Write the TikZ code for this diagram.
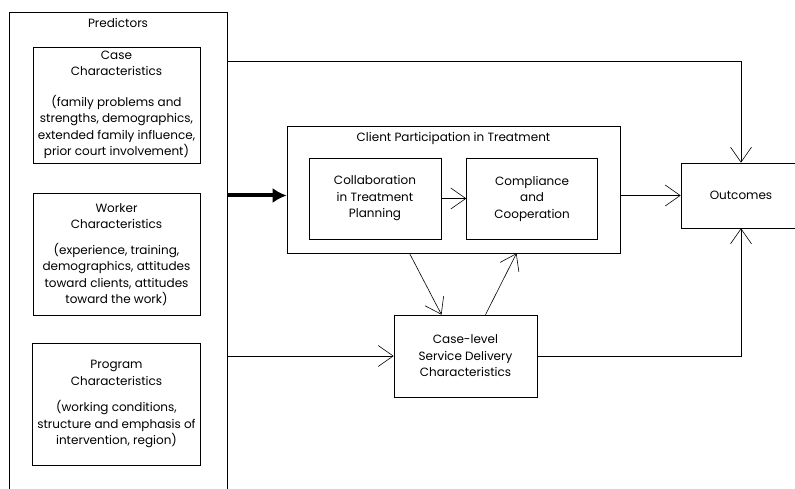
\documentclass[tikz,border=0pt]{standalone}
\usepackage{fontspec}
\setmainfont{Poppins}
\usetikzlibrary{arrows.meta,positioning}

\begin{document}
\begin{tikzpicture}[x=1pt, y=-1pt, node distance=30pt and 25pt,
  every node/.style={font=\fontsize{12}{16.5}\selectfont, align=center},
  box/.style={draw, line width=0.6pt, inner sep=0pt},
  conn/.style={line width=0.6pt, -{Straight Barb[length=15pt,width=21pt]}},
  bigconn/.style={line width=4pt, -{Latex[length=14pt,width=15pt]}}]
\useasboundingbox (0,0) rectangle (795,489);

% predictors column (open at the bottom of the page)
\node[box, minimum width=218pt, minimum height=508pt] (pred) at (118,266) {};
\node (predtitle) at (118,23) {Predictors};
\node[box, minimum width=167pt, minimum height=116pt] (case) at (116.5,105)
  {Case\\Characteristics\\[14pt](family problems and\\strengths, demographics,\\extended family influence,\\prior court involvement)};
\node[box, minimum width=167pt, minimum height=122pt, below=30pt of case] (worker)
  {Worker\\Characteristics\\[9pt](experience, training,\\demographics, attitudes\\toward clients, attitudes\\toward the work)};
\node[box, minimum width=168pt, minimum height=122pt, below=27pt of worker] (program)
  {Program\\Characteristics\\[10pt](working conditions,\\structure and emphasis of\\intervention, region)};

% client participation
\node[box, minimum width=333pt, minimum height=127pt] (client) at (453.5,189.5) {};
\node[below=3pt of client.north] (clienttitle) {Client Participation in Treatment};
\node[box, minimum width=132pt, minimum height=81pt] (collab) at (375,198.5)
  {Collaboration\\in Treatment\\Planning};
\node[box, minimum width=131pt, minimum height=81pt, right=25pt of collab] (comply)
  {Compliance\\and\\Cooperation};

\node[box, minimum width=143pt, minimum height=82pt] (svc) at (465.5,356)
  {Case-level\\Service Delivery\\Characteristics};
\node[box, minimum width=120pt, minimum height=65pt] (outc) at (741,195.5) {Outcomes};

% connectors
\draw[conn] ([yshift=-50pt]pred.north east) -| (outc.north);
\draw[bigconn] (pred.east |- outc) -- (client.west |- outc);
\draw[conn] (collab.east) -- (collab.east -| comply.west);
\draw[conn] (client.east |- outc) -- (outc.west);
\draw[conn] (pred.east |- svc) -- (svc.west);
\draw[conn] (svc.east) -| (outc.south);
\draw[conn] ([xshift=-44pt]client.south) -- ([xshift=-24pt]svc.north);
\draw[conn] ([xshift=20pt]svc.north) -- ([xshift=63pt]client.south);
\end{tikzpicture}
\end{document}
